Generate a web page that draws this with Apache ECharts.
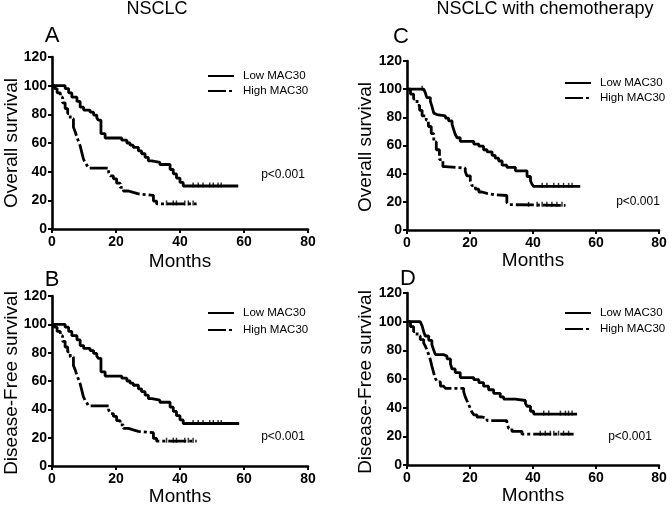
<!DOCTYPE html>
<html><head><meta charset="utf-8">
<script src="https://cdn.jsdelivr.net/npm/echarts@6/dist/echarts.min.js"></script>
<style>html,body{margin:0;padding:0;background:#fff}#c{width:672px;height:508px}</style>
</head><body><div id="c"></div>
<script>
// ---------- data (months, % surviving) ----------
const xTicks = [0, 20, 40, 60, 80];
const yTicks = [0, 20, 40, 60, 80, 100, 120];
const seriesNames = ['Low MAC30', 'High MAC30'];

// Panel A: NSCLC, overall survival
const aLow = [[0,100],[4.1,98],[5.2,95],[6.2,92],[7.8,89],[8.8,85],[9.9,83],[11.9,81.5],[13,79.5],[14,77.5],[14.5,76],[15.3,66.5],[16.6,63.5],[21.8,62],[23.4,60],[24.4,58.5],[25.4,57],[27,54.5],[28,52.5],[29.1,50],[30.1,47.5],[31.2,46.5],[33.7,45],[36.9,41.5],[37.9,38.5],[38.9,35.5],[40,32.5],[41,30],[58.2,30]];
const aHigh = [[0,100],[0.8,98],[1.6,95],[2.6,92],[3.3,88],[4.1,84],[4.9,80.5],[5.7,77],[6.7,71],[7.3,67.5],[7.8,64],[8.3,61],[8.8,58],[9.3,53.5],[9.8,49],[10.3,46.5],[10.9,44.5],[11.4,42.5],[17.7,39.5],[18.2,37],[19.2,35],[20.2,32],[21.3,29],[22.3,26.5],[23.9,25.5],[25.4,24.5],[27,23.5],[31.7,19.5],[32.7,17.5],[45.2,17.5]];
const aLowCensor = [44.1,45.7,47.2,49.3,50.4,51.9,52.9];
const aHighCensor = [35.8,37.9,38.9,41.5,42.6,44.1];

// Panel B: NSCLC, disease-free survival
const bLow = [[0,100],[4.1,98],[5.2,95],[6.2,92],[7.8,89],[8.8,85],[9.9,83],[11.9,81.5],[13,79.5],[14,77.5],[14.5,76],[15.3,66.5],[16.6,63.5],[21.8,62],[23.4,60],[24.4,58.5],[25.4,57],[27,54.5],[28,52.5],[29.1,50],[30.1,47.5],[31.2,46.5],[33.7,45],[36.9,41.5],[37.9,38.5],[38.9,35.5],[40,32.5],[41,30],[58.5,30]];
const bHigh = [[0,100],[0.8,98],[1.6,95],[2.6,92],[3.3,88],[4.1,84],[4.9,80.5],[5.7,77],[6.7,71],[7.3,67.5],[7.8,64],[8.3,61],[8.8,58],[9.3,53.5],[9.8,49],[10.3,46.5],[10.9,44.5],[11.4,42.5],[17.7,39.5],[18.2,37],[19.2,35],[20.2,32],[21.3,29],[22.3,26.5],[23.9,25.5],[25.4,24.5],[27,23.5],[31.7,19.5],[32.7,17.5],[45.2,17.5]];
const bLowCensor = [44.1,45.7,47.2,49.3,50.4,51.9,52.9];
const bHighCensor = [35.8,37.9,38.9,41.5,42.6,44.1];

// Panel C: NSCLC with chemotherapy, overall survival
const cLow = [[0,100],[5.3,99],[5.8,97.5],[6.3,94],[7.4,91.5],[7.9,88],[8.5,83],[9,82],[9.5,81],[12.2,79.5],[13.2,77.5],[14.3,75],[14.8,71.5],[15.3,68],[15.9,65.5],[16.9,63],[21.2,61],[22.8,59.5],[24.3,57],[25.4,55.5],[27,53],[28,51],[29.1,49],[30.2,46],[31.7,44.5],[34.4,42],[38.1,38],[39.2,35],[39.7,32.5],[40.2,31],[55,31]];
const cHigh = [[0,100],[1.1,96.5],[2.1,93],[3.2,88.5],[4,85],[4.8,81],[6.1,78],[6.8,73.5],[7.7,68.5],[8.5,62.5],[9.3,57],[10.3,50],[11.4,45],[12.2,44],[18.5,41.5],[19,38.5],[20.1,35],[20.6,31.5],[21.7,29],[22.8,27],[23.8,26],[25.4,25],[28,24.5],[31.7,19.5],[32.3,18],[32.8,17.5],[50.3,17.5]];
const cLowCensor = [4.8,42.9,44.4,46.6,48.1,49.7,51.3,52.4];
const cHighCensor = [38.6,41.3,42.9,44.4,46,47.6,49.2];

// Panel D: NSCLC with chemotherapy, disease-free survival
const dLow = [[0,100],[4.2,99],[4.8,97],[5.3,93],[5.8,90],[6.9,87],[7.9,84],[8.5,80],[9,77],[11.6,76],[12.7,74],[13.8,70.5],[14.3,67],[15.3,64.5],[16.9,61],[21.2,59.5],[22.8,57.5],[24.3,55],[25.9,52.5],[27.5,50],[29.6,47.5],[30.7,46],[34.4,45],[37.6,43],[38.1,41],[39.2,37.5],[40.2,35.5],[54,35.5]];
const dHigh = [[0,100],[1.1,96.5],[2.1,93],[3.2,90],[4.2,87.5],[5.3,85],[5.8,83],[6.3,80.5],[6.9,77],[7.4,73.5],[7.9,69],[8.5,64],[9,60.5],[9.5,58],[10.6,55],[11.6,54],[12.2,53.5],[18,51],[18.5,47.5],[19,45],[19.6,42],[20.1,39.5],[20.6,37],[21.2,35],[22.2,33.5],[23.8,32.5],[25.4,31],[31.7,29],[32.3,25.5],[33.3,23.5],[36.5,21.5],[52.9,21.5]];
const dLowCensor = [43.4,45,48.7,50.3,51.3,52.4];
const dHighCensor = [42.3,43.9,45.5,46.6,48.1,49.7,51.3];

// ---------- layout ----------
const FONT = '"Liberation Sans", Arial, Helvetica, sans-serif';
const panels = [
  {low:aLow, high:aHigh, lc:aLowCensor, hc:aHighCensor, grid:{left:52, top:57, width:256, height:172}, leg:{left:207, top:70, gap:3}},
  {low:cLow, high:cHigh, lc:cLowCensor, hc:cHighCensor, grid:{left:407, top:61, width:252, height:169}, leg:{left:564, top:77, gap:3}},
  {low:bLow, high:bHigh, lc:bLowCensor, hc:bHighCensor, grid:{left:52, top:296, width:256, height:170}, leg:{left:207, top:307, gap:5}},
  {low:dLow, high:dHigh, lc:dLowCensor, hc:dHighCensor, grid:{left:407, top:293, width:252, height:172}, leg:{left:564, top:307, gap:4}}
];

function levelAt(curve, t) {
  let v = curve[0][1];
  for (const p of curve) { if (p[0] <= t) v = p[1]; }
  return v;
}

const axisLine = {show:true, onZero:false, lineStyle:{color:'#000', width:2.6}};
const axisTick = {show:true, inside:false, length:4, lineStyle:{color:'#000', width:2}};
const tickLabel = {color:'#000', fontSize:14, fontWeight:'bold', fontFamily:FONT};
const HIGH_DASH = [18,3,3,3];

const grid = [], xAxis = [], yAxis = [], series = [], legend = [];
panels.forEach((p, i) => {
  grid.push(Object.assign({containLabel:false}, p.grid));
  xAxis.push({type:'value', gridIndex:i, min:xTicks[0], max:xTicks[xTicks.length-1], interval:20,
    axisLine, axisTick, splitLine:{show:false}, axisLabel:Object.assign({margin:6}, tickLabel)});
  yAxis.push({type:'value', gridIndex:i, min:yTicks[0], max:yTicks[yTicks.length-1], interval:20,
    axisLine, axisTick, splitLine:{show:false}, axisLabel:Object.assign({margin:5}, tickLabel)});
  series.push({name:seriesNames[0], type:'line', step:'end', xAxisIndex:i, yAxisIndex:i, data:p.low,
    symbol:'none', showSymbol:false, lineStyle:{color:'#000', width:2.8}, itemStyle:{color:'#000'}, z:3});
  series.push({name:seriesNames[1], type:'line', step:'end', xAxisIndex:i, yAxisIndex:i, data:p.high,
    symbol:'none', showSymbol:false, lineStyle:{color:'#000', width:2.8, type:HIGH_DASH}, itemStyle:{color:'#000'}, z:3});
  series.push({name:'censor', type:'scatter', xAxisIndex:i, yAxisIndex:i,
    data:p.lc.map(t => [t, levelAt(p.low, t)]), symbol:'rect', symbolSize:[1.5,5], symbolOffset:[0,-1],
    itemStyle:{color:'#000'}, silent:true, z:4});
  series.push({name:'censor', type:'scatter', xAxisIndex:i, yAxisIndex:i,
    data:p.hc.map(t => [t, levelAt(p.high, t)]), symbol:'rect', symbolSize:[1.5,5], symbolOffset:[0,-1],
    itemStyle:{color:'#000'}, silent:true, z:4});
  legend.push({left:p.leg.left, top:p.leg.top, padding:0, orient:'vertical', itemWidth:26, itemHeight:10, itemGap:p.leg.gap,
    selectedMode:false, data:seriesNames,
    itemStyle:{color:'rgba(0,0,0,0)', borderColor:'rgba(0,0,0,0)', borderWidth:0},
    textStyle:{color:'#000', fontSize:11.5, fontFamily:FONT, padding:[0,0,0,4]}});
});

const txt = (x, y, text, size) => ({type:'text', x, y,
  style:{text, fill:'#000', font: size + 'px ' + FONT, textAlign:'center', textVerticalAlign:'middle'}});
const vtxt = (x, y, text, size) => ({type:'text', x, y, rotation:Math.PI/2,
  style:{text, fill:'#000', font: size + 'px ' + FONT, textAlign:'center', textVerticalAlign:'middle'}});

const graphic = [
  txt(157, 9, 'NSCLC', 18),
  txt(545, 9, 'NSCLC with chemotherapy', 18),
  txt(52, 36, 'A', 22), txt(401, 37, 'C', 22), txt(52, 280, 'B', 22), txt(408, 279, 'D', 22),
  vtxt(12, 143, 'Overall survival', 19), vtxt(366, 147, 'Overall survival', 19),
  vtxt(12, 383, 'Disease-Free survival', 19), vtxt(366, 382, 'Disease-Free survival', 19),
  txt(180, 262, 'Months', 19), txt(533, 261, 'Months', 19),
  txt(180, 497, 'Months', 19), txt(533, 496, 'Months', 19),
  txt(283, 175, 'p<0.001', 12), txt(638, 202, 'p<0.001', 12),
  txt(283, 437, 'p<0.001', 12), txt(630, 437, 'p<0.001', 12)
];

const chart = echarts.init(document.getElementById('c'), null, {renderer:'canvas'});
chart.setOption({animation:false, backgroundColor:'#fff', grid, xAxis, yAxis, series, legend, graphic});
</script></body></html>
